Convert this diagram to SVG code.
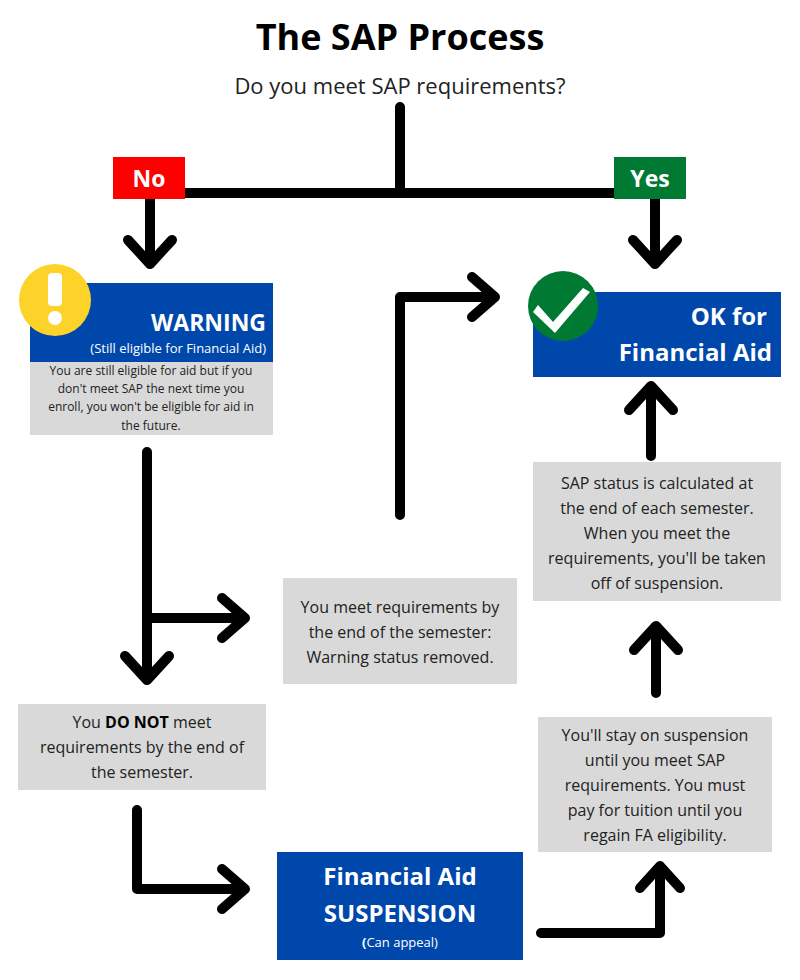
<svg xmlns="http://www.w3.org/2000/svg" width="800" height="980" viewBox="0 0 800 980">
<style>
.ln{fill:none;stroke:#000;stroke-width:10;stroke-linecap:round;stroke-linejoin:round}
.gray{fill:#d9d9d9}
.blue{fill:#0047ab}
.t{font-family:"Open Sans","Liberation Sans",sans-serif;fill:#222;text-anchor:middle}
.w{font-family:"Open Sans","Liberation Sans",sans-serif;fill:#fff;font-weight:bold}
</style>
<rect width="800" height="980" fill="#fff"/>
<text x="400" y="50" class="t" style="font-size:36px;font-weight:bold;fill:#000">The SAP Process</text>
<text x="400" y="94" class="t" style="font-size:22px">Do you meet SAP requirements?</text>
<g id="connectors">
<path class="ln" d="M400 107V193M150 193H655"/>
<path class="ln" d="M150 199V262M128 240L150 264L172 240"/>
<path class="ln" d="M655 199V262M633 240L655 264L677 240"/>
<path class="ln" d="M400 515V297H493M472 277L495 297L472 317"/>
<path class="ln" d="M147 452V678M125 656L147 680L169 656"/>
<path class="ln" d="M147 618H243M222 598L245 618L222 638"/>
<path class="ln" d="M137 810V889H243M222 869L245 889L222 909"/>
<path class="ln" d="M541 933H660V867M640 888L660 866L680 888"/>
<path class="ln" d="M656 693V628M634 650L656 626L678 650"/>
<path class="ln" d="M651 456V388M629 410L651 386L673 410"/>
</g>
<g id="no"><rect x="113" y="157" width="72" height="42" fill="#ff0000"/><text x="149" y="187" class="w" style="font-size:23px;text-anchor:middle">No</text></g>
<g id="yes"><rect x="614" y="157" width="72" height="42" fill="#007a33"/><text x="650" y="187" class="w" style="font-size:23px;text-anchor:middle">Yes</text></g>
<g id="warning">
<rect x="30" y="283" width="243" height="79" class="blue"/>
<rect x="30" y="362" width="243" height="73" class="gray"/>
<circle cx="55" cy="300" r="36" fill="#fdd32a"/>
<rect x="48" y="273" width="14" height="33" rx="4" fill="#fff"/>
<circle cx="55" cy="318" r="7" fill="#fff"/>
<text x="266" y="331" class="w" style="font-size:23px;text-anchor:end">WARNING</text>
<text x="266" y="353" class="w" style="font-size:13px;font-weight:normal;text-anchor:end">(Still eligible for Financial Aid)</text>
<text class="t" style="font-size:12px"><tspan x="151" y="375">You are still eligible for aid but if you</tspan><tspan x="151" y="393">don't meet SAP the next time you</tspan><tspan x="151" y="411">enroll, you won't be eligible for aid in</tspan><tspan x="151" y="430">the future.</tspan></text>
</g>
<g id="ok">
<rect x="533" y="292" width="248" height="85" class="blue"/>
<circle cx="563" cy="306" r="35" fill="#007a33"/>
<path d="M538 305L553 322L583 288L590 292L555 333L533 312Z" fill="#fff"/>
<text x="767" y="325" class="w" style="font-size:24px;text-anchor:end">OK for</text>
<text x="772" y="361" class="w" style="font-size:24px;text-anchor:end">Financial Aid</text>
</g>
<g id="meet"><rect x="283" y="578" width="234" height="106" class="gray"/>
<text class="t" style="font-size:16px"><tspan x="400" y="613">You meet requirements by</tspan><tspan x="400" y="638">the end of the semester:</tspan><tspan x="400" y="663">Warning status removed.</tspan></text></g>
<g id="donot"><rect x="18" y="704" width="248" height="86" class="gray"/>
<text class="t" style="font-size:16px"><tspan x="142" y="728">You <tspan font-weight="bold" fill="#000">DO NOT</tspan> meet</tspan><tspan x="142" y="753">requirements by the end of</tspan><tspan x="142" y="778">the semester.</tspan></text></g>
<g id="suspension"><rect x="277" y="852" width="246" height="108" class="blue"/>
<text x="400" y="885" class="w" style="font-size:24px;text-anchor:middle">Financial Aid</text>
<text x="400" y="922" class="w" style="font-size:24px;text-anchor:middle">SUSPENSION</text>
<text x="400" y="947" class="w" style="font-size:13px;font-weight:normal;text-anchor:middle"><tspan font-weight="bold">(</tspan>Can appeal)</text></g>
<g id="stay"><rect x="538" y="717" width="234" height="135" class="gray"/>
<text class="t" style="font-size:16px"><tspan x="655" y="741">You'll stay on suspension</tspan><tspan x="655" y="766">until you meet SAP</tspan><tspan x="655" y="791">requirements. You must</tspan><tspan x="655" y="816">pay for tuition until you</tspan><tspan x="655" y="841">regain FA eligibility.</tspan></text></g>
<g id="status"><rect x="533" y="462" width="248" height="139" class="gray"/>
<text class="t" style="font-size:16px"><tspan x="657" y="489">SAP status is calculated at</tspan><tspan x="657" y="514">the end of each semester.</tspan><tspan x="657" y="539">When you meet the</tspan><tspan x="657" y="564">requirements, you'll be taken</tspan><tspan x="657" y="589">off of suspension.</tspan></text></g>
</svg>
